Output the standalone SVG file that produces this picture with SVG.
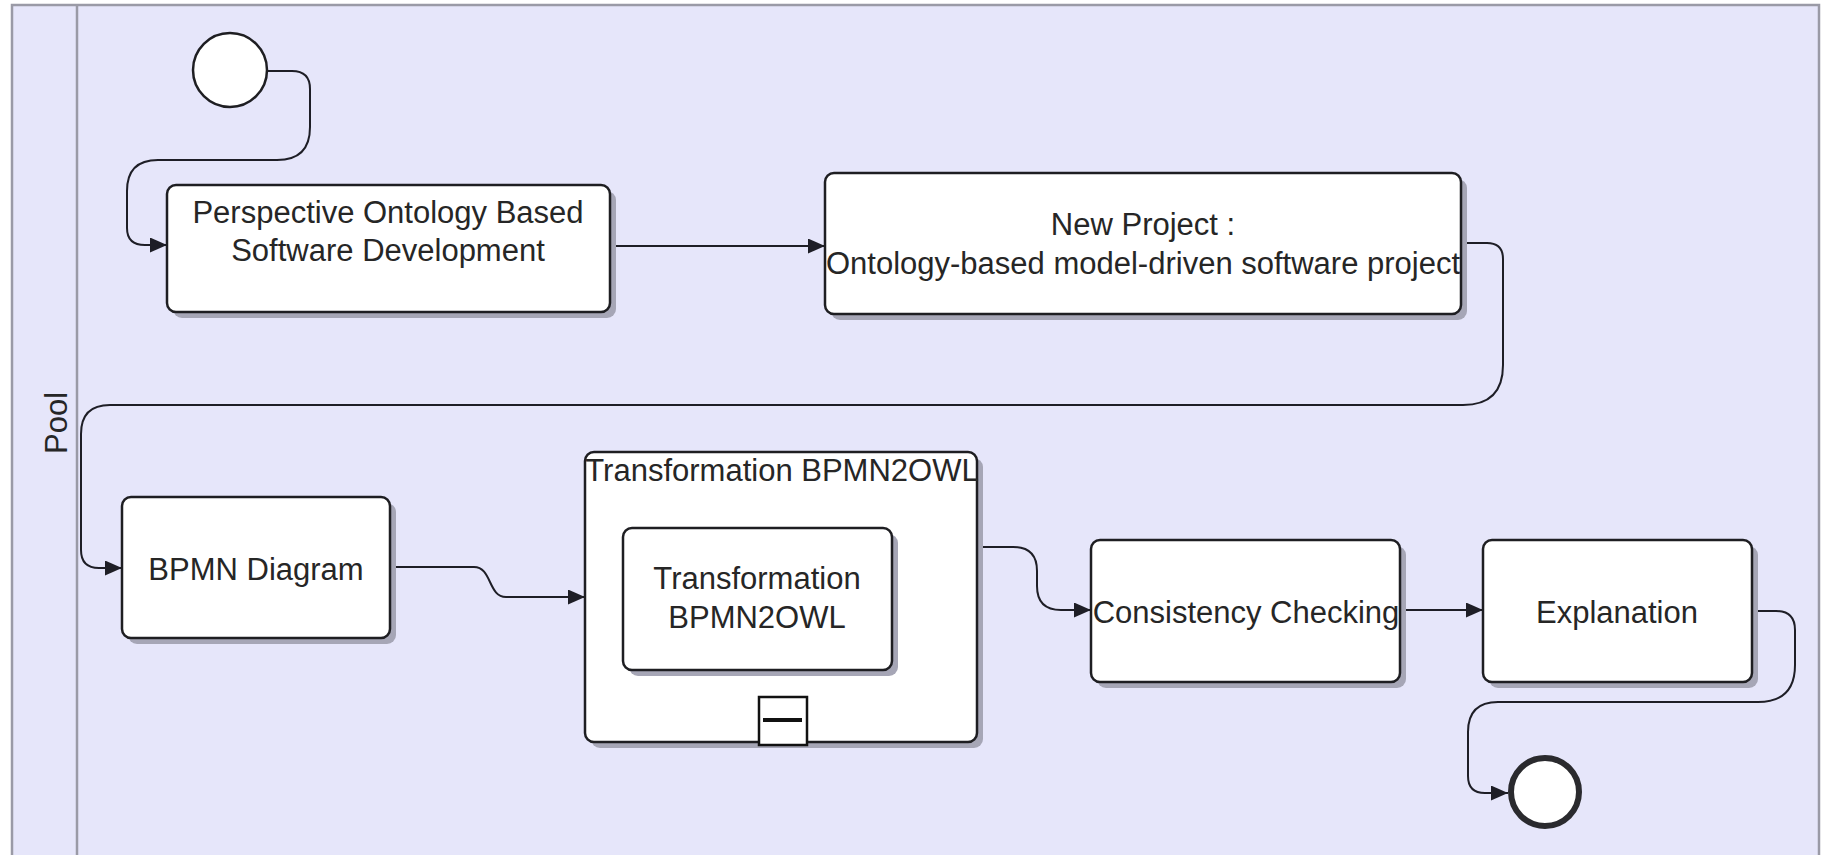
<svg xmlns="http://www.w3.org/2000/svg" width="1823" height="855" viewBox="0 0 1823 855">
<style>
.pool{fill:#e6e6fa;stroke:#9a9aa6;stroke-width:2.5}
.task{fill:#ffffff;stroke:#1e1e22;stroke-width:2.5}
.shadow{fill:#a6a6b6}
.lbl{font-family:"Liberation Sans",Arial,sans-serif;font-size:31px;fill:#262626;text-anchor:middle}
.conn{fill:none;stroke:#1e1e26;stroke-width:2}
</style>
<defs>
<marker id="arr" markerUnits="userSpaceOnUse" markerWidth="18" markerHeight="15" refX="17" refY="7.5" orient="auto">
<path d="M0,0 L17,7.5 L0,15 z" fill="#1e1e26"/>
</marker>
</defs>
<rect width="1823" height="855" fill="#ffffff"/>
<g id="pool">
<rect class="pool" x="12" y="5" width="1807" height="900"/>
<line x1="77" y1="5" x2="77" y2="855" stroke="#9a9aa6" stroke-width="2.5"/>
<text class="lbl" transform="translate(67,423) rotate(-90)">Pool</text>
</g>
<g id="connectors">
<path class="conn" d="M267,71 H292 Q310,71 310,89 V127 Q310,160 277,160 H158 Q127,160 127,191 V228 Q127,245 145,245 H167" marker-end="url(#arr)"/>
<path class="conn" d="M610,246 H825" marker-end="url(#arr)"/>
<path class="conn" d="M1461,243 H1487 Q1503,243 1503,259 V365 Q1503,405 1463,405 H110 Q81,405 81,434 V550 Q81,568 99,568 H122" marker-end="url(#arr)"/>
<path class="conn" d="M390,567 H474 C492,567 488,597 506,597 H585" marker-end="url(#arr)"/>
<path class="conn" d="M978,547 H1013 Q1037,547 1037,571 V586 Q1037,610 1061,610 H1091" marker-end="url(#arr)"/>
<path class="conn" d="M1400,610 H1483" marker-end="url(#arr)"/>
<path class="conn" d="M1752,611 H1776 Q1795,611 1795,630 V665 Q1795,702 1758,702 H1498 Q1468,702 1468,732 V776 Q1468,793 1485,793 H1508" marker-end="url(#arr)"/>
</g>
<g id="start">
<circle cx="230" cy="70" r="37" fill="#ffffff" stroke="#1e1e22" stroke-width="2.5"/>
</g>
<g id="task1">
<rect class="shadow" x="173" y="191" width="443" height="127" rx="9"/>
<rect class="task" x="167" y="185" width="443" height="127" rx="9"/>
<text class="lbl" x="388" y="223">Perspective Ontology Based</text>
<text class="lbl" x="388" y="261">Software Development</text>
</g>
<g id="task2">
<rect class="shadow" x="831" y="179" width="636" height="141" rx="9"/>
<rect class="task" x="825" y="173" width="636" height="141" rx="9"/>
<text class="lbl" x="1143" y="235">New Project :</text>
<text class="lbl" x="1143" y="274">Ontology-based model-driven software project</text>
</g>
<g id="bpmn">
<rect class="shadow" x="128" y="503" width="268" height="141" rx="9"/>
<rect class="task" x="122" y="497" width="268" height="141" rx="9"/>
<text class="lbl" x="256" y="580">BPMN Diagram</text>
</g>
<g id="subprocess">
<rect class="shadow" x="591" y="458" width="392" height="290" rx="9"/>
<rect class="task" x="585" y="452" width="392" height="290" rx="9"/>
<text class="lbl" x="782" y="481">Transformation BPMN2OWL</text>
<rect class="shadow" x="629" y="534" width="269" height="142" rx="9"/>
<rect class="task" x="623" y="528" width="269" height="142" rx="9"/>
<text class="lbl" x="757" y="589">Transformation</text>
<text class="lbl" x="757" y="628">BPMN2OWL</text>
<rect x="759" y="697" width="48" height="48" fill="#ffffff" stroke="#111" stroke-width="2.5"/>
<line x1="763" y1="720" x2="802" y2="720" stroke="#111" stroke-width="4"/>
</g>
<g id="consistency">
<rect class="shadow" x="1097" y="546" width="309" height="142" rx="9"/>
<rect class="task" x="1091" y="540" width="309" height="142" rx="9"/>
<text class="lbl" x="1246" y="623">Consistency Checking</text>
</g>
<g id="explanation">
<rect class="shadow" x="1489" y="546" width="269" height="142" rx="9"/>
<rect class="task" x="1483" y="540" width="269" height="142" rx="9"/>
<text class="lbl" x="1617" y="623">Explanation</text>
</g>
<g id="end">
<circle cx="1545" cy="792" r="34" fill="#ffffff" stroke="#2a2a2e" stroke-width="6"/>
</g>
</svg>
